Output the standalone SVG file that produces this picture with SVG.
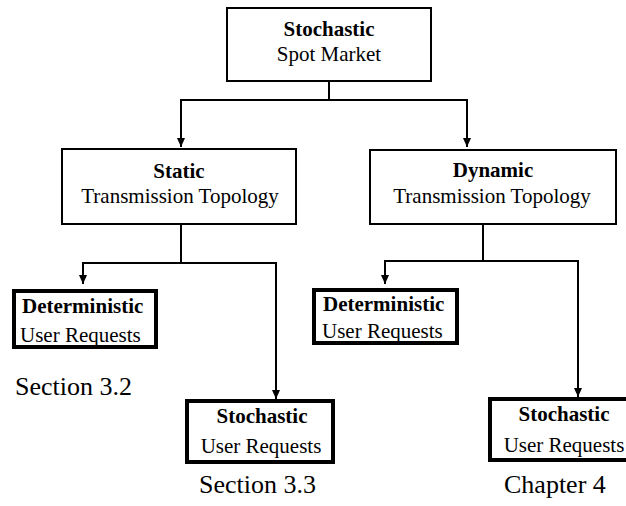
<svg xmlns="http://www.w3.org/2000/svg" width="626" height="506" viewBox="0 0 626 506">
  <style>
    .box { fill: #fff; stroke: #000; stroke-width: 2; }
    .thick { fill: #fff; stroke: #000; stroke-width: 4; }
    .wire { fill: none; stroke: #000; stroke-width: 2; }
    text { font-family: "Liberation Serif", "Times New Roman", serif; fill: #000; }
    .t { font-size: 21px; }
    .b { font-size: 21px; font-weight: bold; }
    .c { text-anchor: middle; }
    .note { font-size: 26px; }
  </style>
  <defs>
    <marker id="arrow" markerUnits="userSpaceOnUse" markerWidth="10" markerHeight="10" refX="9" refY="4" orient="auto">
      <path d="M0,0 L9,4 L0,8 z" fill="#000"/>
    </marker>
  </defs>

  <g id="connectors">
    <path class="wire" d="M329,82 V100 H181 V147" marker-end="url(#arrow)"/>
    <path class="wire" d="M329,100 H467 V147" marker-end="url(#arrow)"/>
    <path class="wire" d="M181,225 V263 H83 V284" marker-end="url(#arrow)"/>
    <path class="wire" d="M181,263 H276 V399" marker-end="url(#arrow)"/>
    <path class="wire" d="M483,225 V261 H385 V284" marker-end="url(#arrow)"/>
    <path class="wire" d="M483,261 H578 V397" marker-end="url(#arrow)"/>
  </g>

  <g id="spot-market">
    <rect class="box" x="227" y="8" width="204" height="73"/>
    <text class="b c" x="329" y="36">Stochastic</text>
    <text class="t c" x="329" y="61">Spot Market</text>
  </g>

  <g id="static-topology">
    <rect class="box" x="62" y="149" width="234" height="75"/>
    <text class="b c" x="179" y="178">Static</text>
    <text class="t c" x="180" y="203">Transmission Topology</text>
  </g>

  <g id="dynamic-topology">
    <rect class="box" x="370" y="150" width="246" height="74"/>
    <text class="b c" x="493" y="177">Dynamic</text>
    <text class="t c" x="492" y="203">Transmission Topology</text>
  </g>

  <g id="static-deterministic">
    <rect class="thick" x="14" y="291" width="142" height="56"/>
    <text class="b" x="22" y="313">Deterministic</text>
    <text class="t" x="20" y="342">User Requests</text>
  </g>

  <g id="static-stochastic">
    <rect class="thick" x="187" y="401" width="146" height="61"/>
    <text class="b c" x="262" y="423">Stochastic</text>
    <text class="t c" x="261" y="453">User Requests</text>
  </g>

  <g id="dynamic-deterministic">
    <rect class="thick" x="314" y="290" width="143" height="53"/>
    <text class="b" x="323" y="311">Deterministic</text>
    <text class="t" x="322" y="338">User Requests</text>
  </g>

  <g id="dynamic-stochastic">
    <rect class="thick" x="490" y="399" width="148" height="61"/>
    <text class="b c" x="564" y="421">Stochastic</text>
    <text class="t c" x="564" y="452">User Requests</text>
  </g>

  <g id="references">
    <text class="note" x="15" y="395">Section 3.2</text>
    <text class="note" x="199" y="493">Section 3.3</text>
    <text class="note" x="504" y="493">Chapter 4</text>
  </g>
</svg>
